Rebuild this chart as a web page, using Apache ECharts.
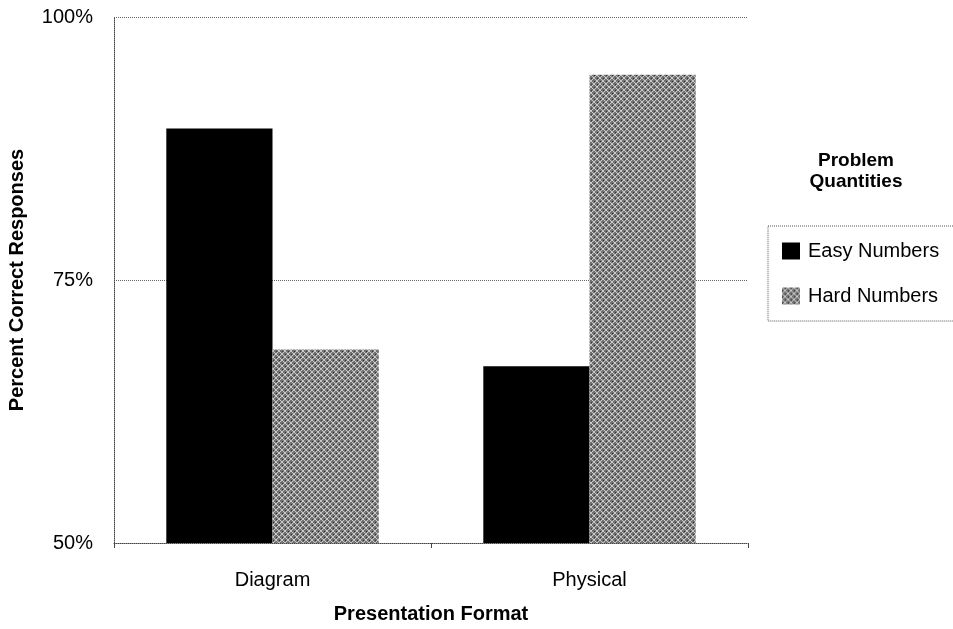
<!DOCTYPE html>
<html><head><meta charset="utf-8">
<script src="https://cdn.jsdelivr.net/npm/echarts@6/dist/echarts.min.js"></script>
<style>html,body{margin:0;padding:0;background:#fff}#c{width:953px;height:629px}</style>
</head><body><div id="c"></div>
<script>
const categories = ['Diagram', 'Physical'];
const easyNumbers = [89.4, 66.8];
const hardNumbers = [68.4, 94.5];
const yTicks = [50, 75, 100];

function makePattern() {
  const c = document.createElement('canvas');
  c.width = 6; c.height = 6;
  const g = c.getContext('2d');
  g.fillStyle = '#737373'; g.fillRect(0, 0, 6, 6);
  g.fillStyle = '#c8c8c8';
  for (let i = 0; i < 6; i++) {
    g.fillRect(i, i, 1, 1);
    g.fillRect(5 - i, i, 1, 1);
  }
  g.fillStyle = '#333';
  g.fillRect(3, 0, 1, 1); g.fillRect(0, 3, 1, 1);
  return c;
}
const pat = makePattern();
const font = 'Liberation Sans, Arial, sans-serif';
const chart = echarts.init(document.getElementById('c'));
chart.setOption({
  animation: false,
  textStyle: { fontFamily: font },
  grid: { left: 114, right: 205, top: 17, bottom: 86, outerBoundsMode: 'none', containLabel: false },
  title: {
    text: 'Problem\nQuantities', left: 851, top: 145, textAlign: 'center',
    textStyle: { fontFamily: font, fontWeight: 'bold', fontSize: 19, color: '#000', lineHeight: 21 }
  },
  legend: {
    orient: 'vertical', left: 768, top: 226,
    itemWidth: 18, itemHeight: 17, itemGap: 25, icon: 'rect',
    padding: [15, 60, 15, 14],
    borderColor: '#555', borderWidth: 1, borderType: 'dotted',
    textStyle: { fontFamily: font, fontSize: 20, color: '#000', padding: [0, 0, 0, 3] },
    data: [
      { name: 'Easy Numbers', itemStyle: { color: '#000' } },
      { name: 'Hard Numbers', itemStyle: { color: { image: pat, repeat: 'repeat' } } }
    ]
  },
  xAxis: {
    type: 'category', data: categories,
    name: 'Presentation Format', nameLocation: 'middle', nameGap: 61,
    nameTextStyle: { fontFamily: font, fontWeight: 'bold', fontSize: 20, color: '#000' },
    axisLine: { lineStyle: { color: '#444', type: 'dotted' } },
    axisTick: { show: true, length: 5, inside: false, lineStyle: { color: '#444' } },
    axisLabel: { fontFamily: font, fontSize: 20, color: '#000', margin: 27 },
    splitLine: { show: false }
  },
  yAxis: {
    type: 'value', min: 50, max: 100, interval: 25,
    name: 'Percent Correct Responses', nameLocation: 'middle', nameGap: 87, nameRotate: 90,
    nameTextStyle: { fontFamily: font, fontWeight: 'bold', fontSize: 20, color: '#000' },
    axisLine: { show: true, lineStyle: { color: '#444', type: 'dotted' } },
    axisTick: { show: false },
    axisLabel: { fontFamily: font, fontSize: 20, color: '#000', margin: 21, formatter: v => yTicks.includes(v) ? v + '%' : '' },
    splitLine: { show: true, lineStyle: { color: '#666', type: 'dotted' } }
  },
  series: [
    { name: 'Easy Numbers', type: 'bar', data: easyNumbers, barGap: '0%', barCategoryGap: '33%',
      itemStyle: { color: '#000' } },
    { name: 'Hard Numbers', type: 'bar', data: hardNumbers, barGap: '0%', barCategoryGap: '33%',
      itemStyle: { color: { image: pat, repeat: 'repeat' } } }
  ]
});
</script></body></html>
